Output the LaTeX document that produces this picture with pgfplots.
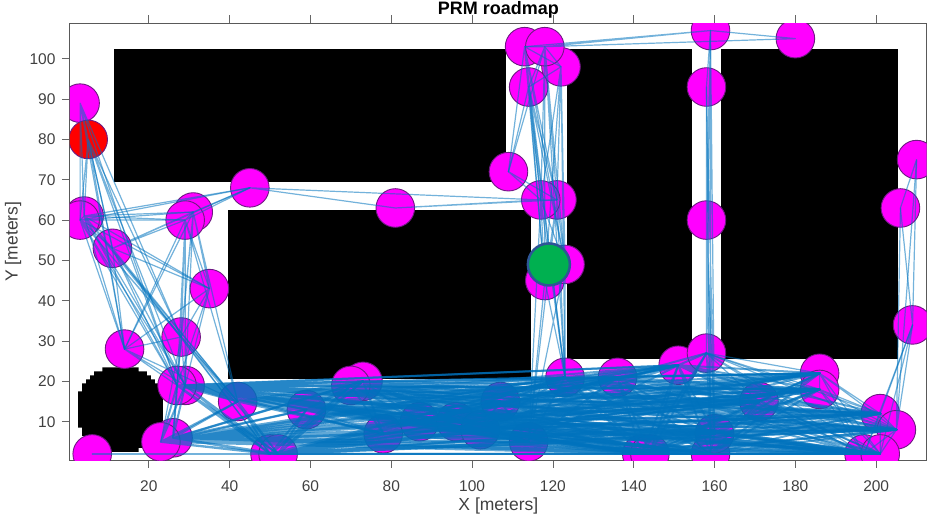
\documentclass[border=0pt]{standalone}
\usepackage{pgfplots}
\pgfplotsset{compat=1.18}
\usepackage{fontspec}
\setmainfont{Liberation Sans}
\definecolor{txt}{gray}{0.25}
\definecolor{medge}{RGB}{110,25,130}
\definecolor{mag}{RGB}{255,0,255}
\definecolor{rd}{RGB}{255,0,0}
\definecolor{gr}{RGB}{0,176,80}
\definecolor{gredge}{RGB}{45,85,150}
\definecolor{mblue}{rgb}{0,0.447,0.741}
\pgfplotsset{edge/.style={color=mblue,line width=1.2pt,opacity=0.55,line join=round,mark=none,forget plot},
  bedge/.style={color=mblue,line width=2pt,opacity=0.62,line join=round,mark=none,forget plot}}
\begin{document}
\begin{tikzpicture}[x=1pt,y=1pt]
\path[use as bounding box] (-70,-57) rectangle (857,460);
\begin{axis}[
  at={(0pt,0pt)},anchor=south west,
  width=856.7pt,height=436.7pt,scale only axis,
  xmin=0.5,xmax=212.5,ymin=0.5,ymax=108.8,
  clip marker paths=true,
  xtick={20,40,...,200},ytick={10,20,...,100},
  tick align=outside,xtick pos=both,ytick pos=left,
  xticklabel pos=bottom,
  major tick length=8pt,
  tick style={color=gray!80!black,line width=0.8pt},
  axis line style={color=gray!70!black,line width=1pt},
  /pgf/number format/assume math mode=true,
  tick label style={font=\fontsize{15.5}{18}\selectfont,text=txt},
  xticklabel style={yshift=-9pt},
  yticklabel style={xshift=-3pt},
  every axis x label/.style={at={(axis description cs:0.5,0)},anchor=center,yshift=-46pt},
  every axis y label/.style={at={(axis description cs:0,0.5)},anchor=center,rotate=90,yshift=57pt},
  label style={font=\fontsize{17.5}{20}\selectfont,text=txt},
  xlabel={X [meters]},ylabel={Y [meters]},
  title={\textbf{PRM roadmap}},
  title style={at={(axis description cs:0.5,1)},anchor=center,yshift=7pt,font=\fontsize{18}{20}\selectfont,text=black},
]
% obstacles
\addplot[fill=black,draw=none,forget plot] coordinates {(11.5,102.5)(108.5,102.5)(108.5,69.5)(11.5,69.5)} --cycle;
\addplot[fill=black,draw=none,forget plot] coordinates {(39.5,62.5)(114.5,62.5)(114.5,20.5)(39.5,20.5)} --cycle;
\addplot[fill=black,draw=none,forget plot] coordinates {(123.5,102.5)(154.5,102.5)(154.5,25.5)(123.5,25.5)} --cycle;
\addplot[fill=black,draw=none,forget plot] coordinates {(161.5,102.5)(205.5,102.5)(205.5,25.5)(161.5,25.5)} --cycle;
\addplot[fill=black,draw=none,forget plot] coordinates {(8.5,23.5)(17.5,23.5)(17.5,22.5)(19.5,22.5)(19.5,21.5)(20.5,21.5)(20.5,20.5)(21.5,20.5)(21.5,19.5)(22.5,19.5)(22.5,17.5)(23.5,17.5)(23.5,8.5)(22.5,8.5)(22.5,6.5)(21.5,6.5)(21.5,5.5)(20.5,5.5)(20.5,4.5)(19.5,4.5)(19.5,3.5)(17.5,3.5)(17.5,2.5)(8.5,2.5)(8.5,3.5)(6.5,3.5)(6.5,4.5)(5.5,4.5)(5.5,5.5)(4.5,5.5)(4.5,6.5)(3.5,6.5)(3.5,8.5)(2.5,8.5)(2.5,17.5)(3.5,17.5)(3.5,19.5)(4.5,19.5)(4.5,20.5)(5.5,20.5)(5.5,21.5)(6.5,21.5)(6.5,22.5)(8.5,22.5)} --cycle;
% nodes
\addplot[only marks,mark=*,mark size=19.3pt,mark options={fill=mag,draw=medge,line width=0.9pt},forget plot] coordinates {
(3,89)(4,61)(3,60)(11,53)(31,62)(29,60)(45,68)(35,43)(14,28)(28,31)(29,19)(27,19)(42,15)(6,2)(26,6)(23,5)(50,2)(52,2)(59,13)(73,20)(70,19)(78,7)(87,10)(96,10)(102,8)(107,15)(114,5)(123,21)(136,21)(142,2)(144,2)(151,24)(158,27)(159,2)(160,7)(171,15)(186,22)(186,18)(201,12)(205,8)(197,2)(201,2)(209,34)(206,63)(210,75)(158,60)(158,93)(159,107)(180,105)(113,103)(122,98)(118,103)(114,93)(109,72)(121,65)(117,65)(118,45)(123,49)(81,63)};
\addplot[only marks,mark=*,mark size=19.3pt,mark options={fill=rd,draw=medge,line width=0.9pt},forget plot] coordinates {(5,80)};
% roadmap: left group
\addplot[edge] coordinates {(3,89)(5,80)(3,89)(4,61)(3,89)(3,60)(3,89)(11,53)(3,89)(14,28)(3,89)(28,31)(3,89)(27,19)};
\addplot[edge] coordinates {(5,80)(4,61)(5,80)(3,60)(5,80)(11,53)(5,80)(14,28)(5,80)(28,31)(5,80)(27,19)(5,80)(29,19)};
\addplot[edge] coordinates {(4,61)(3,60)(4,61)(11,53)(4,61)(14,28)(4,61)(28,31)(4,61)(27,19)(4,61)(29,19)(4,61)(42,15)(4,61)(29,60)(4,61)(31,62)(4,61)(45,68)(4,61)(35,43)};
\addplot[edge] coordinates {(3,60)(11,53)(3,60)(14,28)(3,60)(28,31)(3,60)(27,19)(3,60)(29,19)(3,60)(42,15)(3,60)(29,60)(3,60)(31,62)(3,60)(45,68)(3,60)(35,43)};
\addplot[edge] coordinates {(11,53)(14,28)(11,53)(28,31)(11,53)(27,19)(11,53)(29,19)(11,53)(42,15)(11,53)(50,2)(11,53)(29,60)(11,53)(31,62)(11,53)(45,68)(11,53)(35,43)};
\addplot[edge] coordinates {(29,60)(14,28)(29,60)(28,31)(29,60)(27,19)(29,60)(29,19)(29,60)(42,15)(29,60)(31,62)(29,60)(45,68)(29,60)(35,43)};
\addplot[edge] coordinates {(31,62)(14,28)(31,62)(28,31)(31,62)(27,19)(31,62)(29,19)(31,62)(42,15)(31,62)(45,68)(31,62)(35,43)};
\addplot[edge] coordinates {(35,43)(14,28)(35,43)(28,31)(35,43)(27,19)(35,43)(29,19)};
\addplot[edge] coordinates {(14,28)(28,31)(14,28)(27,19)(14,28)(29,19)(14,28)(42,15)};
\addplot[edge] coordinates {(28,31)(27,19)(28,31)(29,19)(28,31)(42,15)(28,31)(23,5)(28,31)(26,6)(28,31)(50,2)(28,31)(52,2)};
\addplot[edge] coordinates {(45,68)(81,63)(45,68)(117,65)(81,63)(117,65)(81,63)(121,65)};
\addplot[edge] coordinates {(6,2)(50,2)(6,2)(52,2)(6,2)(144,2)(6,2)(159,2)};
% roadmap: bottom band
\addplot[bedge] coordinates {(23,5)(26,6)(23,5)(27,19)(23,5)(29,19)(23,5)(42,15)(23,5)(50,2)(23,5)(52,2)(23,5)(59,13)(23,5)(70,19)(23,5)(73,20)(23,5)(78,7)(23,5)(87,10)(23,5)(96,10)(23,5)(102,8)(23,5)(107,15)(23,5)(114,5)(23,5)(123,21)(23,5)(136,21)(23,5)(142,2)(23,5)(144,2)(23,5)(151,24)(23,5)(159,2)(23,5)(160,7)(23,5)(171,15)(23,5)(186,22)(23,5)(186,18)(23,5)(201,12)(23,5)(205,8)(23,5)(197,2)(23,5)(201,2)};
\addplot[bedge] coordinates {(26,6)(27,19)(26,6)(29,19)(26,6)(42,15)(26,6)(50,2)(26,6)(52,2)(26,6)(59,13)(26,6)(70,19)(26,6)(73,20)(26,6)(78,7)(26,6)(87,10)(26,6)(96,10)(26,6)(102,8)(26,6)(107,15)(26,6)(114,5)(26,6)(123,21)(26,6)(136,21)(26,6)(142,2)(26,6)(144,2)(26,6)(151,24)(26,6)(159,2)(26,6)(160,7)(26,6)(171,15)(26,6)(186,22)(26,6)(186,18)(26,6)(201,12)(26,6)(205,8)(26,6)(197,2)(26,6)(201,2)};
\addplot[bedge] coordinates {(27,19)(29,19)(27,19)(42,15)(27,19)(50,2)(27,19)(52,2)(27,19)(59,13)(27,19)(70,19)(27,19)(73,20)(27,19)(78,7)(27,19)(87,10)(27,19)(96,10)(27,19)(102,8)(27,19)(107,15)(27,19)(114,5)(27,19)(123,21)(27,19)(136,21)(27,19)(142,2)(27,19)(144,2)(27,19)(151,24)(27,19)(159,2)(27,19)(160,7)(27,19)(171,15)(27,19)(186,22)(27,19)(186,18)(27,19)(201,12)(27,19)(205,8)(27,19)(197,2)(27,19)(201,2)};
\addplot[bedge] coordinates {(29,19)(42,15)(29,19)(50,2)(29,19)(52,2)(29,19)(59,13)(29,19)(70,19)(29,19)(73,20)(29,19)(78,7)(29,19)(87,10)(29,19)(96,10)(29,19)(102,8)(29,19)(107,15)(29,19)(114,5)(29,19)(123,21)(29,19)(136,21)(29,19)(142,2)(29,19)(144,2)(29,19)(151,24)(29,19)(159,2)(29,19)(160,7)(29,19)(171,15)(29,19)(186,22)(29,19)(186,18)(29,19)(201,12)(29,19)(205,8)(29,19)(197,2)(29,19)(201,2)};
\addplot[bedge] coordinates {(42,15)(50,2)(42,15)(52,2)(42,15)(59,13)(42,15)(70,19)(42,15)(73,20)(42,15)(78,7)(42,15)(87,10)(42,15)(96,10)(42,15)(102,8)(42,15)(107,15)(42,15)(114,5)(42,15)(123,21)(42,15)(136,21)(42,15)(142,2)(42,15)(144,2)(42,15)(151,24)(42,15)(159,2)(42,15)(160,7)(42,15)(171,15)(42,15)(186,22)(42,15)(186,18)(42,15)(201,12)(42,15)(205,8)(42,15)(197,2)(42,15)(201,2)};
\addplot[bedge] coordinates {(50,2)(52,2)(50,2)(59,13)(50,2)(70,19)(50,2)(73,20)(50,2)(78,7)(50,2)(87,10)(50,2)(96,10)(50,2)(102,8)(50,2)(107,15)(50,2)(114,5)(50,2)(123,21)(50,2)(136,21)(50,2)(142,2)(50,2)(144,2)(50,2)(151,24)(50,2)(159,2)(50,2)(160,7)(50,2)(171,15)(50,2)(186,22)(50,2)(186,18)(50,2)(201,12)(50,2)(205,8)(50,2)(197,2)(50,2)(201,2)};
\addplot[bedge] coordinates {(52,2)(59,13)(52,2)(70,19)(52,2)(73,20)(52,2)(78,7)(52,2)(87,10)(52,2)(96,10)(52,2)(102,8)(52,2)(107,15)(52,2)(114,5)(52,2)(123,21)(52,2)(136,21)(52,2)(142,2)(52,2)(144,2)(52,2)(151,24)(52,2)(159,2)(52,2)(160,7)(52,2)(171,15)(52,2)(186,22)(52,2)(186,18)(52,2)(201,12)(52,2)(205,8)(52,2)(197,2)(52,2)(201,2)};
\addplot[bedge] coordinates {(59,13)(70,19)(59,13)(73,20)(59,13)(78,7)(59,13)(87,10)(59,13)(96,10)(59,13)(102,8)(59,13)(107,15)(59,13)(114,5)(59,13)(123,21)(59,13)(136,21)(59,13)(142,2)(59,13)(144,2)(59,13)(151,24)(59,13)(159,2)(59,13)(160,7)(59,13)(171,15)(59,13)(186,22)(59,13)(186,18)(59,13)(201,12)(59,13)(205,8)(59,13)(197,2)(59,13)(201,2)};
\addplot[bedge] coordinates {(70,19)(73,20)(70,19)(78,7)(70,19)(87,10)(70,19)(96,10)(70,19)(102,8)(70,19)(107,15)(70,19)(114,5)(70,19)(136,21)(70,19)(142,2)(70,19)(144,2)(70,19)(159,2)(70,19)(160,7)(70,19)(171,15)(70,19)(186,18)(70,19)(201,12)(70,19)(205,8)(70,19)(197,2)(70,19)(201,2)};
\addplot[bedge] coordinates {(73,20)(78,7)(73,20)(87,10)(73,20)(96,10)(73,20)(102,8)(73,20)(107,15)(73,20)(114,5)(73,20)(142,2)(73,20)(144,2)(73,20)(159,2)(73,20)(160,7)(73,20)(171,15)(73,20)(186,18)(73,20)(201,12)(73,20)(205,8)(73,20)(197,2)(73,20)(201,2)};
\addplot[bedge] coordinates {(78,7)(87,10)(78,7)(96,10)(78,7)(102,8)(78,7)(107,15)(78,7)(114,5)(78,7)(123,21)(78,7)(136,21)(78,7)(142,2)(78,7)(144,2)(78,7)(151,24)(78,7)(159,2)(78,7)(160,7)(78,7)(171,15)(78,7)(186,22)(78,7)(186,18)(78,7)(201,12)(78,7)(205,8)(78,7)(197,2)(78,7)(201,2)};
\addplot[bedge] coordinates {(87,10)(96,10)(87,10)(102,8)(87,10)(107,15)(87,10)(114,5)(87,10)(123,21)(87,10)(136,21)(87,10)(142,2)(87,10)(144,2)(87,10)(151,24)(87,10)(159,2)(87,10)(160,7)(87,10)(171,15)(87,10)(186,22)(87,10)(186,18)(87,10)(201,12)(87,10)(205,8)(87,10)(197,2)(87,10)(201,2)};
\addplot[bedge] coordinates {(96,10)(102,8)(96,10)(107,15)(96,10)(114,5)(96,10)(123,21)(96,10)(136,21)(96,10)(142,2)(96,10)(144,2)(96,10)(151,24)(96,10)(159,2)(96,10)(160,7)(96,10)(171,15)(96,10)(186,22)(96,10)(186,18)(96,10)(201,12)(96,10)(205,8)(96,10)(197,2)(96,10)(201,2)};
\addplot[bedge] coordinates {(102,8)(107,15)(102,8)(114,5)(102,8)(123,21)(102,8)(136,21)(102,8)(142,2)(102,8)(144,2)(102,8)(151,24)(102,8)(159,2)(102,8)(160,7)(102,8)(171,15)(102,8)(186,22)(102,8)(186,18)(102,8)(201,12)(102,8)(205,8)(102,8)(197,2)(102,8)(201,2)};
\addplot[bedge] coordinates {(107,15)(114,5)(107,15)(123,21)(107,15)(136,21)(107,15)(142,2)(107,15)(144,2)(107,15)(151,24)(107,15)(159,2)(107,15)(160,7)(107,15)(171,15)(107,15)(186,22)(107,15)(186,18)(107,15)(201,12)(107,15)(205,8)(107,15)(197,2)(107,15)(201,2)};
\addplot[bedge] coordinates {(114,5)(123,21)(114,5)(136,21)(114,5)(142,2)(114,5)(144,2)(114,5)(151,24)(114,5)(159,2)(114,5)(160,7)(114,5)(171,15)(114,5)(186,22)(114,5)(186,18)(114,5)(201,12)(114,5)(205,8)(114,5)(197,2)(114,5)(201,2)};
\addplot[bedge] coordinates {(123,21)(136,21)(123,21)(142,2)(123,21)(144,2)(123,21)(151,24)(123,21)(159,2)(123,21)(160,7)(123,21)(171,15)(123,21)(186,22)(123,21)(186,18)(123,21)(201,12)(123,21)(205,8)(123,21)(197,2)(123,21)(201,2)};
\addplot[bedge] coordinates {(136,21)(142,2)(136,21)(144,2)(136,21)(151,24)(136,21)(158,27)(136,21)(159,2)(136,21)(160,7)(136,21)(171,15)(136,21)(186,22)(136,21)(186,18)(136,21)(201,12)(136,21)(205,8)(136,21)(197,2)(136,21)(201,2)};
\addplot[bedge] coordinates {(142,2)(144,2)(142,2)(151,24)(142,2)(158,27)(142,2)(159,2)(142,2)(160,7)(142,2)(171,15)(142,2)(186,22)(142,2)(186,18)(142,2)(201,12)(142,2)(205,8)(142,2)(197,2)(142,2)(201,2)};
\addplot[bedge] coordinates {(144,2)(151,24)(144,2)(158,27)(144,2)(159,2)(144,2)(160,7)(144,2)(171,15)(144,2)(186,22)(144,2)(186,18)(144,2)(201,12)(144,2)(205,8)(144,2)(197,2)(144,2)(201,2)};
\addplot[bedge] coordinates {(151,24)(158,27)(151,24)(159,2)(151,24)(160,7)(151,24)(171,15)(151,24)(186,22)(151,24)(186,18)(151,24)(201,12)(151,24)(205,8)(151,24)(197,2)(151,24)(201,2)};
\addplot[bedge] coordinates {(159,2)(160,7)(159,2)(171,15)(159,2)(186,22)(159,2)(186,18)(159,2)(201,12)(159,2)(205,8)(159,2)(197,2)(159,2)(201,2)};
\addplot[bedge] coordinates {(160,7)(171,15)(160,7)(186,22)(160,7)(186,18)(160,7)(201,12)(160,7)(205,8)(160,7)(197,2)(160,7)(201,2)};
\addplot[edge] coordinates {(171,15)(158,27)(171,15)(186,22)(171,15)(186,18)(171,15)(201,12)(171,15)(205,8)(171,15)(197,2)(171,15)(201,2)};
\addplot[edge] coordinates {(186,22)(158,27)(186,22)(186,18)(186,22)(201,12)(186,22)(205,8)(186,22)(197,2)(186,22)(201,2)};
\addplot[edge] coordinates {(186,18)(158,27)(186,18)(201,12)(186,18)(205,8)(186,18)(197,2)(186,18)(201,2)};
\addplot[edge] coordinates {(201,12)(158,27)(201,12)(205,8)(201,12)(197,2)(201,12)(201,2)(201,12)(209,34)};
\addplot[edge] coordinates {(205,8)(158,27)(205,8)(197,2)(205,8)(201,2)(205,8)(209,34)(205,8)(206,63)(205,8)(210,75)};
\addplot[edge] coordinates {(197,2)(158,27)(197,2)(201,2)(197,2)(209,34)(201,2)(209,34)(201,2)(158,27)};
\addplot[edge] coordinates {(209,34)(206,63)(209,34)(210,75)(206,63)(210,75)};
% roadmap: vertical corridors
\addplot[edge] coordinates {(158,27)(159,2)(158,27)(160,7)(158,27)(158,60)(158,27)(158,93)(158,27)(159,107)(158,60)(159,2)(158,60)(160,7)(158,60)(158,93)(158,60)(159,107)};
\addplot[edge] coordinates {(158,93)(159,2)(158,93)(160,7)(158,93)(159,107)(159,107)(159,2)(159,107)(160,7)};
\addplot[edge] coordinates {(159,107)(180,105)(159,107)(113,103)(159,107)(118,103)(118,103)(180,105)};
\addplot[edge] coordinates {(113,103)(118,103)(113,103)(122,98)(113,103)(114,93)(113,103)(109,72)(113,103)(117,65)(113,103)(121,65)(113,103)(118,45)(113,103)(123,49)(113,103)(123,21)};
\addplot[edge] coordinates {(118,103)(122,98)(118,103)(114,93)(118,103)(109,72)(118,103)(117,65)(118,103)(121,65)(118,103)(118,45)(118,103)(123,49)(118,103)(123,21)};
\addplot[edge] coordinates {(122,98)(114,93)(122,98)(117,65)(122,98)(121,65)(122,98)(118,45)(122,98)(123,49)(122,98)(123,21)};
\addplot[edge] coordinates {(114,93)(109,72)(114,93)(117,65)(114,93)(121,65)(114,93)(118,45)(114,93)(123,49)(114,93)(123,21)};
\addplot[edge] coordinates {(109,72)(117,65)(109,72)(121,65)};
\addplot[edge] coordinates {(117,65)(121,65)(117,65)(118,45)(117,65)(123,49)(117,65)(123,21)(117,65)(114,5)};
\addplot[edge] coordinates {(121,65)(118,45)(121,65)(123,49)(121,65)(123,21)(121,65)(114,5)};
\addplot[edge] coordinates {(118,45)(123,49)(118,45)(123,21)(118,45)(114,5)(123,49)(123,21)(123,49)(114,5)};
% goal
\addplot[only marks,mark=*,mark size=21pt,mark options={fill=gr,draw=gredge,line width=2.5pt},forget plot] coordinates {(119,49)};
\end{axis}
\end{tikzpicture}
\end{document}
